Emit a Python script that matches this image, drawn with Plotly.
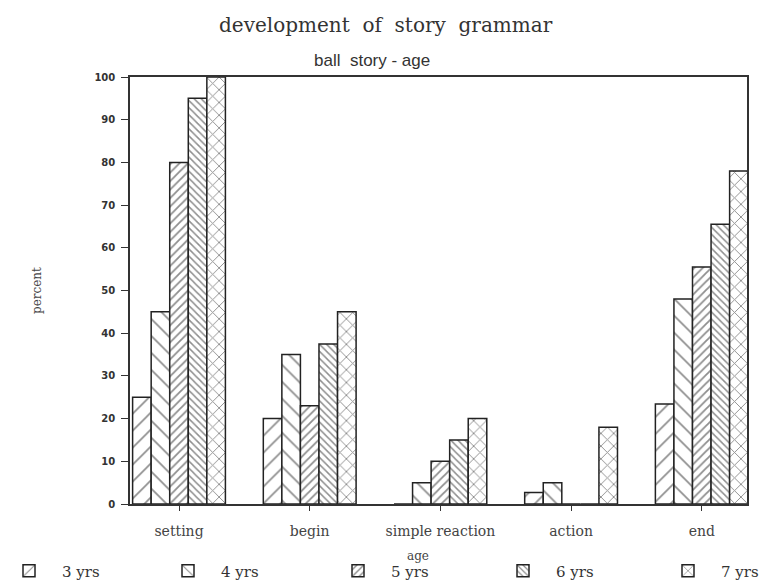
import plotly.graph_objects as go

categories = ["setting", "begin", "simple reaction", "action", "end"]
series_names = ["3 yrs", "4 yrs", "5 yrs", "6 yrs", "7 yrs"]
yrs3 = [25, 20, 0, 2.7, 23.4]
yrs4 = [45, 35, 5, 5, 48]
yrs5 = [80, 23, 10, 0, 55.5]
yrs6 = [95, 37.5, 15, 0, 65.5]
yrs7 = [100, 45, 20, 18, 78]
y_ticks = [0, 10, 20, 30, 40, 50, 60, 70, 80, 90, 100]

values = [yrs3, yrs4, yrs5, yrs6, yrs7]
patterns = [("/", 12, 0.14), ("\\", 12, 0.14), ("/", 6, 0.3), ("\\", 5, 0.3), ("x", 9, 0.2)]
legend_ids = ["legend", "legend2", "legend3", "legend4", "legend5"]
legend_px = [-4, 155, 325, 490, 655]

SERIF = "DejaVu Serif, serif"

OFF = 8  # default page margin of the html body
W, H = 767 - OFF, 583 - OFF
L, R, T, B = 130 - OFF, 20, 77 - OFF, 79
pw = W - L - R
ph = H - T - B


def xp(px):
    return (px - OFF - L) / pw


def yp(py):
    return (H - B - (py - OFF)) / ph


fig = go.Figure()
for name, vals, (shape, size, sol), lid in zip(series_names, values, patterns, legend_ids):
    fig.add_trace(go.Bar(
        x=categories, y=vals, name=name, legend=lid,
        marker=dict(color="white",
                    line=dict(color="#222", width=1.5),
                    pattern=dict(shape=shape, size=size, solidity=sol,
                                 fgcolor="#1e1e1e", bgcolor="white", fillmode="overlay")),
    ))

layout_legends = {}
for lid, px in zip(legend_ids, legend_px):
    layout_legends[lid] = dict(
        x=xp(px), xanchor="left", y=yp(571), yanchor="middle",
        orientation="h", bgcolor="rgba(0,0,0,0)",
        font=dict(family=SERIF, size=15, color="#333"),
        itemwidth=56,
    )

fig.update_layout(
    width=W, height=H,
    margin=dict(l=L, r=R, t=T, b=B, autoexpand=False),
    paper_bgcolor="white", plot_bgcolor="white",
    barmode="group", bargap=0.29, bargroupgap=0,
    showlegend=True,
    **layout_legends,
    xaxis=dict(
        type="category", range=[-0.375, 4.346],
        showline=True, linecolor="#333", linewidth=1.5, mirror=True,
        ticks="outside", ticklen=5, tickcolor="#333",
        ticklabelstandoff=8,
        tickfont=dict(family=SERIF, size=14, color="#444"),
        showgrid=False, zeroline=False,
    ),
    yaxis=dict(
        range=[0, 100], tickvals=y_ticks,
        showline=True, linecolor="#333", linewidth=1.5, mirror=True,
        ticks="outside", ticklen=7, tickcolor="#333",
        ticklabelstandoff=4,
        tickfont=dict(family="DejaVu Sans", size=10, color="#333", weight="bold"),
        showgrid=False, zeroline=False,
    ),
    annotations=[
        dict(text="development\u00a0 of\u00a0 story\u00a0 grammar", x=xp(386), y=yp(25),
             xref="paper", yref="paper", xanchor="center", yanchor="middle",
             showarrow=False, font=dict(family=SERIF, size=20, color="#333")),
        dict(text="ball\u00a0 story - age", x=xp(372), y=yp(61),
             xref="paper", yref="paper", xanchor="center", yanchor="middle",
             showarrow=False, font=dict(family="Liberation Sans Narrow, Liberation Sans, sans-serif", size=17, color="#333")),
        dict(text="age", x=xp(418), y=yp(556),
             xref="paper", yref="paper", xanchor="center", yanchor="middle",
             showarrow=False, font=dict(family=SERIF, size=12, color="#444")),
        dict(text="percent", x=xp(37), y=yp(290), textangle=-90,
             xref="paper", yref="paper", xanchor="center", yanchor="middle",
             showarrow=False, font=dict(family=SERIF, size=12, color="#444")),
    ],
)

fig.write_html("out.html")
